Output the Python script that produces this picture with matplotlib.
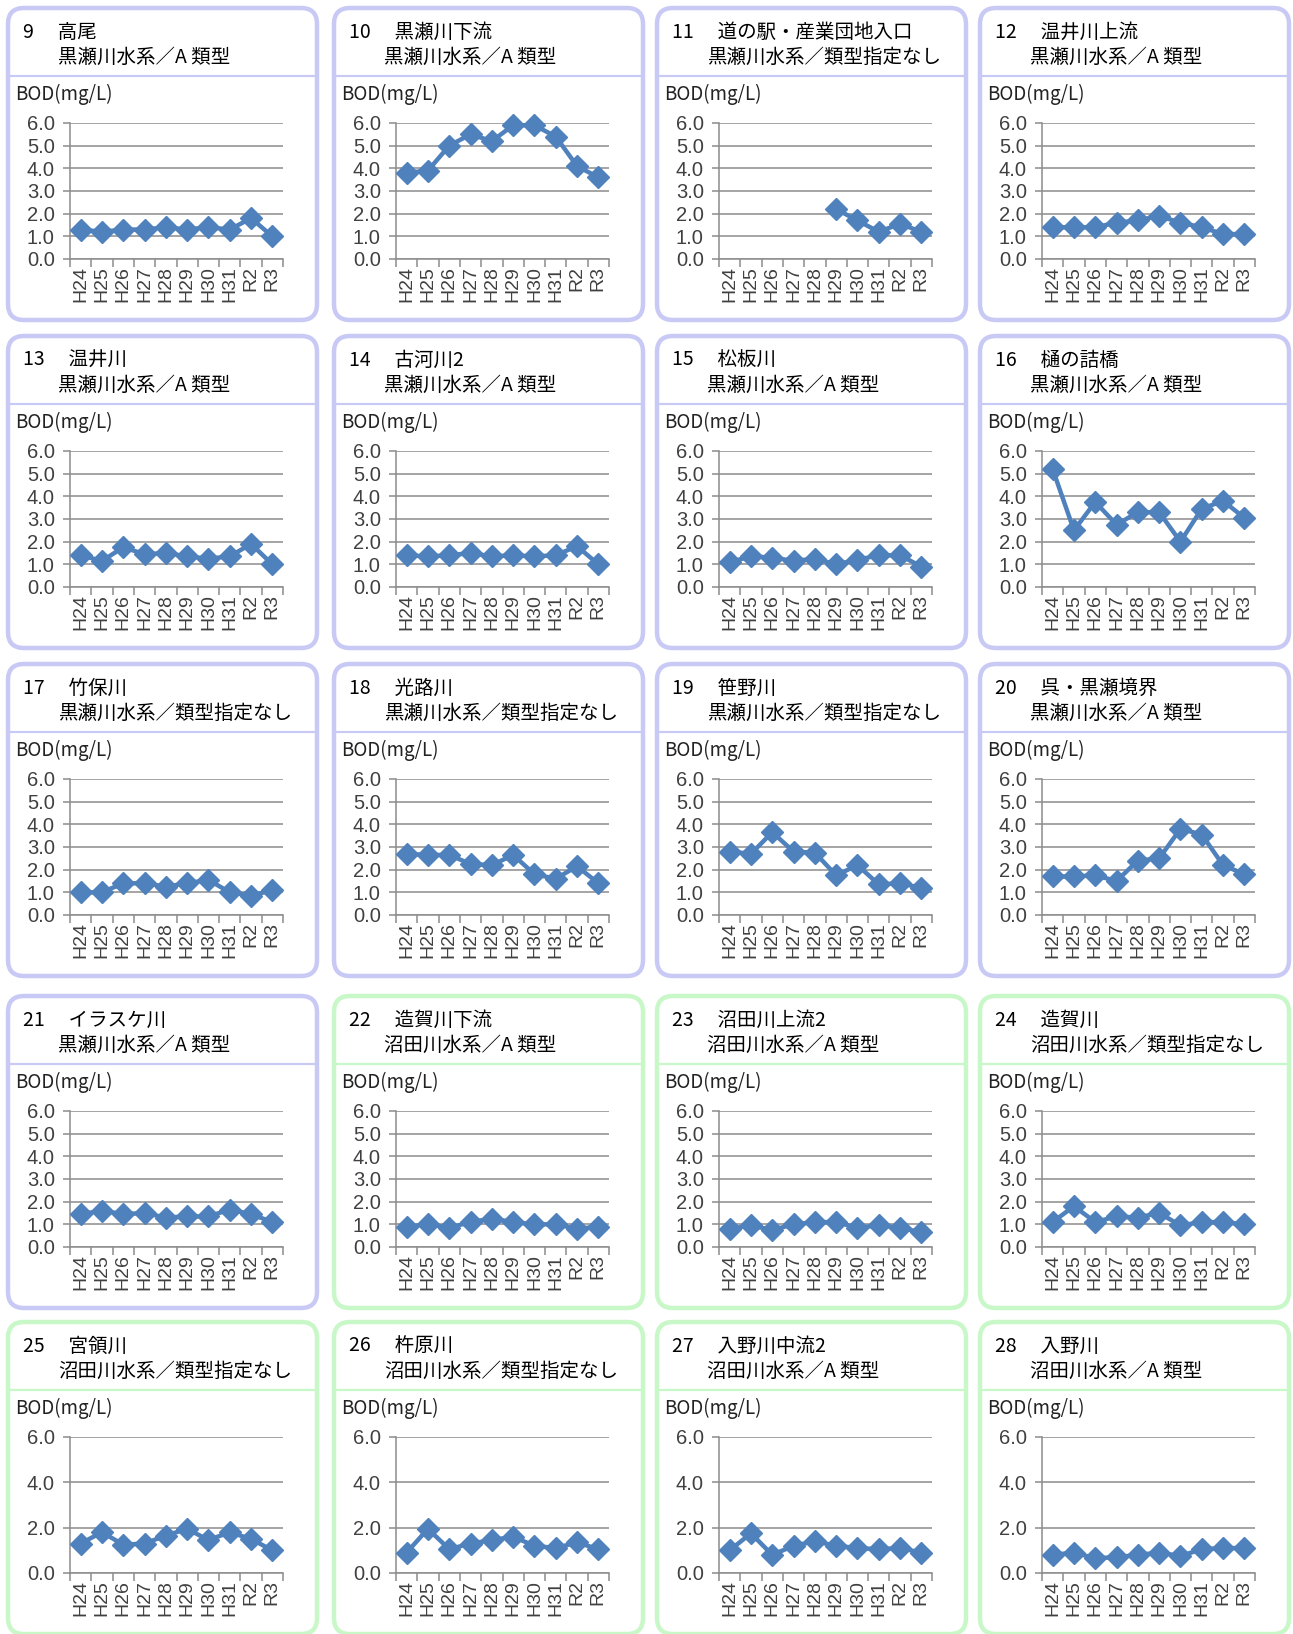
import numpy as np
import matplotlib
matplotlib.use("Agg")
import matplotlib.pyplot as plt
from matplotlib.patches import FancyBboxPatch

plt.rcParams['font.family'] = ['Noto Sans CJK JP', 'DejaVu Sans']

years = ['H24', 'H25', 'H26', 'H27', 'H28', 'H29', 'H30', 'H31', 'R2', 'R3']

# 地点番号・地点名・水系/類型
nos = list(range(9, 29))
names = ['高尾', '黒瀬川下流', '道の駅・産業団地入口', '温井川上流',
         '温井川', '古河川2', '松板川', '樋の詰橋',
         '竹保川', '光路川', '笹野川', '呉・黒瀬境界',
         'イラスケ川', '造賀川下流', '沼田川上流2', '造賀川',
         '宮領川', '杵原川', '入野川中流2', '入野川']
systems = ['黒瀬川水系／A 類型', '黒瀬川水系／A 類型', '黒瀬川水系／類型指定なし', '黒瀬川水系／A 類型',
           '黒瀬川水系／A 類型', '黒瀬川水系／A 類型', '黒瀬川水系／A 類型', '黒瀬川水系／A 類型',
           '黒瀬川水系／類型指定なし', '黒瀬川水系／類型指定なし', '黒瀬川水系／類型指定なし', '黒瀬川水系／A 類型',
           '黒瀬川水系／A 類型', '沼田川水系／A 類型', '沼田川水系／A 類型', '沼田川水系／類型指定なし',
           '沼田川水系／類型指定なし', '沼田川水系／類型指定なし', '沼田川水系／A 類型', '沼田川水系／A 類型']

# BOD (mg/L) 読み取り値
nan = np.nan
bod_9 = [1.3, 1.2, 1.3, 1.3, 1.4, 1.3, 1.4, 1.3, 1.8, 1.0]
bod_10 = [3.8, 3.9, 5.0, 5.5, 5.2, 5.9, 5.9, 5.4, 4.1, 3.6]
bod_11 = [nan, nan, nan, nan, nan, 2.2, 1.7, 1.2, 1.55, 1.2]
bod_12 = [1.4, 1.4, 1.4, 1.6, 1.7, 1.9, 1.6, 1.4, 1.1, 1.1]
bod_13 = [1.4, 1.15, 1.75, 1.45, 1.5, 1.35, 1.25, 1.35, 1.9, 1.0]
bod_14 = [1.4, 1.35, 1.4, 1.5, 1.35, 1.4, 1.35, 1.4, 1.8, 1.0]
bod_15 = [1.1, 1.35, 1.3, 1.15, 1.25, 1.0, 1.2, 1.4, 1.4, 0.9]
bod_16 = [5.2, 2.5, 3.75, 2.75, 3.3, 3.3, 2.0, 3.45, 3.8, 3.05]
bod_17 = [1.0, 1.0, 1.4, 1.4, 1.25, 1.4, 1.55, 1.0, 0.85, 1.1]
bod_18 = [2.7, 2.65, 2.65, 2.25, 2.2, 2.65, 1.8, 1.6, 2.15, 1.4]
bod_19 = [2.8, 2.7, 3.65, 2.8, 2.75, 1.75, 2.2, 1.35, 1.4, 1.2]
bod_20 = [1.7, 1.7, 1.75, 1.5, 2.4, 2.5, 3.8, 3.55, 2.2, 1.8]
bod_21 = [1.45, 1.6, 1.45, 1.5, 1.3, 1.35, 1.35, 1.65, 1.45, 1.1]
bod_22 = [0.9, 1.0, 0.85, 1.1, 1.25, 1.1, 1.0, 1.0, 0.8, 0.9]
bod_23 = [0.8, 0.95, 0.75, 1.0, 1.1, 1.1, 0.85, 0.95, 0.85, 0.65]
bod_24 = [1.1, 1.8, 1.1, 1.35, 1.3, 1.5, 0.95, 1.1, 1.1, 1.0]
bod_25 = [1.3, 1.8, 1.25, 1.3, 1.65, 1.95, 1.45, 1.8, 1.5, 1.0]
bod_26 = [0.9, 1.95, 1.05, 1.3, 1.45, 1.6, 1.2, 1.1, 1.35, 1.05]
bod_27 = [1.0, 1.75, 0.8, 1.2, 1.4, 1.2, 1.1, 1.05, 1.1, 0.9]
bod_28 = [0.8, 0.9, 0.65, 0.7, 0.8, 0.9, 0.75, 1.05, 1.1, 1.1]

bod_all = [bod_9, bod_10, bod_11, bod_12, bod_13, bod_14, bod_15, bod_16,
           bod_17, bod_18, bod_19, bod_20, bod_21, bod_22, bod_23, bod_24,
           bod_25, bod_26, bod_27, bod_28]

W, H = 1293, 1634
fig = plt.figure(figsize=(W / 100, H / 100), dpi=100)

# 背景用（ピクセル座標）
bg = fig.add_axes([0, 0, 1, 1])
bg.set_xlim(0, W)
bg.set_ylim(H, 0)
bg.axis('off')

col_x = [5, 331, 654, 977]
row_y = [5, 333, 661, 993, 1319]
pw, ph = 315, 318

purple = '#C9C9F6'
green = '#C8F7C8'
line_blue = '#4F81BD'
grey = '#8C8C8C'
num_font = ['Liberation Sans', 'DejaVu Sans']

for i, no in enumerate(nos):
    r, c = divmod(i, 4)
    x0, y0 = col_x[c], row_y[r]
    ec = purple if no <= 21 else green

    box = FancyBboxPatch((x0 + 3, y0 + 3), pw - 6, ph - 6,
                         boxstyle="round,pad=0,rounding_size=16",
                         lw=3.2, ec=ec, fc='white', zorder=1)
    bg.add_patch(box)
    bg.plot([x0 + 4, x0 + pw - 4], [y0 + 71, y0 + 71], color=ec, lw=1.6, zorder=2)

    bg.text(x0 + 18, y0 + 27, f'{no}　 {names[i]}', fontsize=14, va='center', ha='left')
    bg.text(x0 + 53, y0 + 52, systems[i], fontsize=14, va='center', ha='left')
    bg.text(x0 + 10, y0 + 89, 'BOD(mg/L)', fontsize=13.5, va='center', ha='left',
            color='#222222')

    left, right = x0 + 65, x0 + 278
    top, bottom = y0 + 118, y0 + 254
    ax = fig.add_axes([left / W, 1 - bottom / H, (right - left) / W, (bottom - top) / H])
    ax.patch.set_alpha(0)

    ax.plot(range(len(years)), bod_all[i], color=line_blue, lw=3.2, marker='D',
            ms=11, clip_on=False, zorder=3)

    ax.set_xlim(-0.5, 9.5)
    ax.set_ylim(0, 6)
    if r == 4:
        yt = [0, 2, 4, 6]
    else:
        yt = [0, 1, 2, 3, 4, 5, 6]
    ax.set_yticks(yt)
    ax.set_yticklabels([f'{v:.1f}' for v in yt], family=num_font)
    ax.grid(axis='y', color=grey, lw=1.1)
    ax.set_axisbelow(True)

    ax.set_xticks(range(len(years)))
    ax.set_xticklabels(years, rotation=90, family=num_font)
    ax.set_xticks(np.arange(-0.5, 10, 1), minor=True)
    ax.tick_params(axis='x', which='major', length=0, pad=5, labelsize=14, labelcolor='#404040')
    ax.tick_params(axis='x', which='minor', length=6, color=grey, width=1.1, direction='out')
    ax.tick_params(axis='y', length=5, color=grey, width=1.1, pad=6, labelsize=14.5,
                   labelcolor='#404040')

    for s in ['top', 'right']:
        ax.spines[s].set_visible(False)
    for s in ['left', 'bottom']:
        ax.spines[s].set_color(grey)
        ax.spines[s].set_linewidth(1.1)

fig.savefig('out.png', dpi=100)
